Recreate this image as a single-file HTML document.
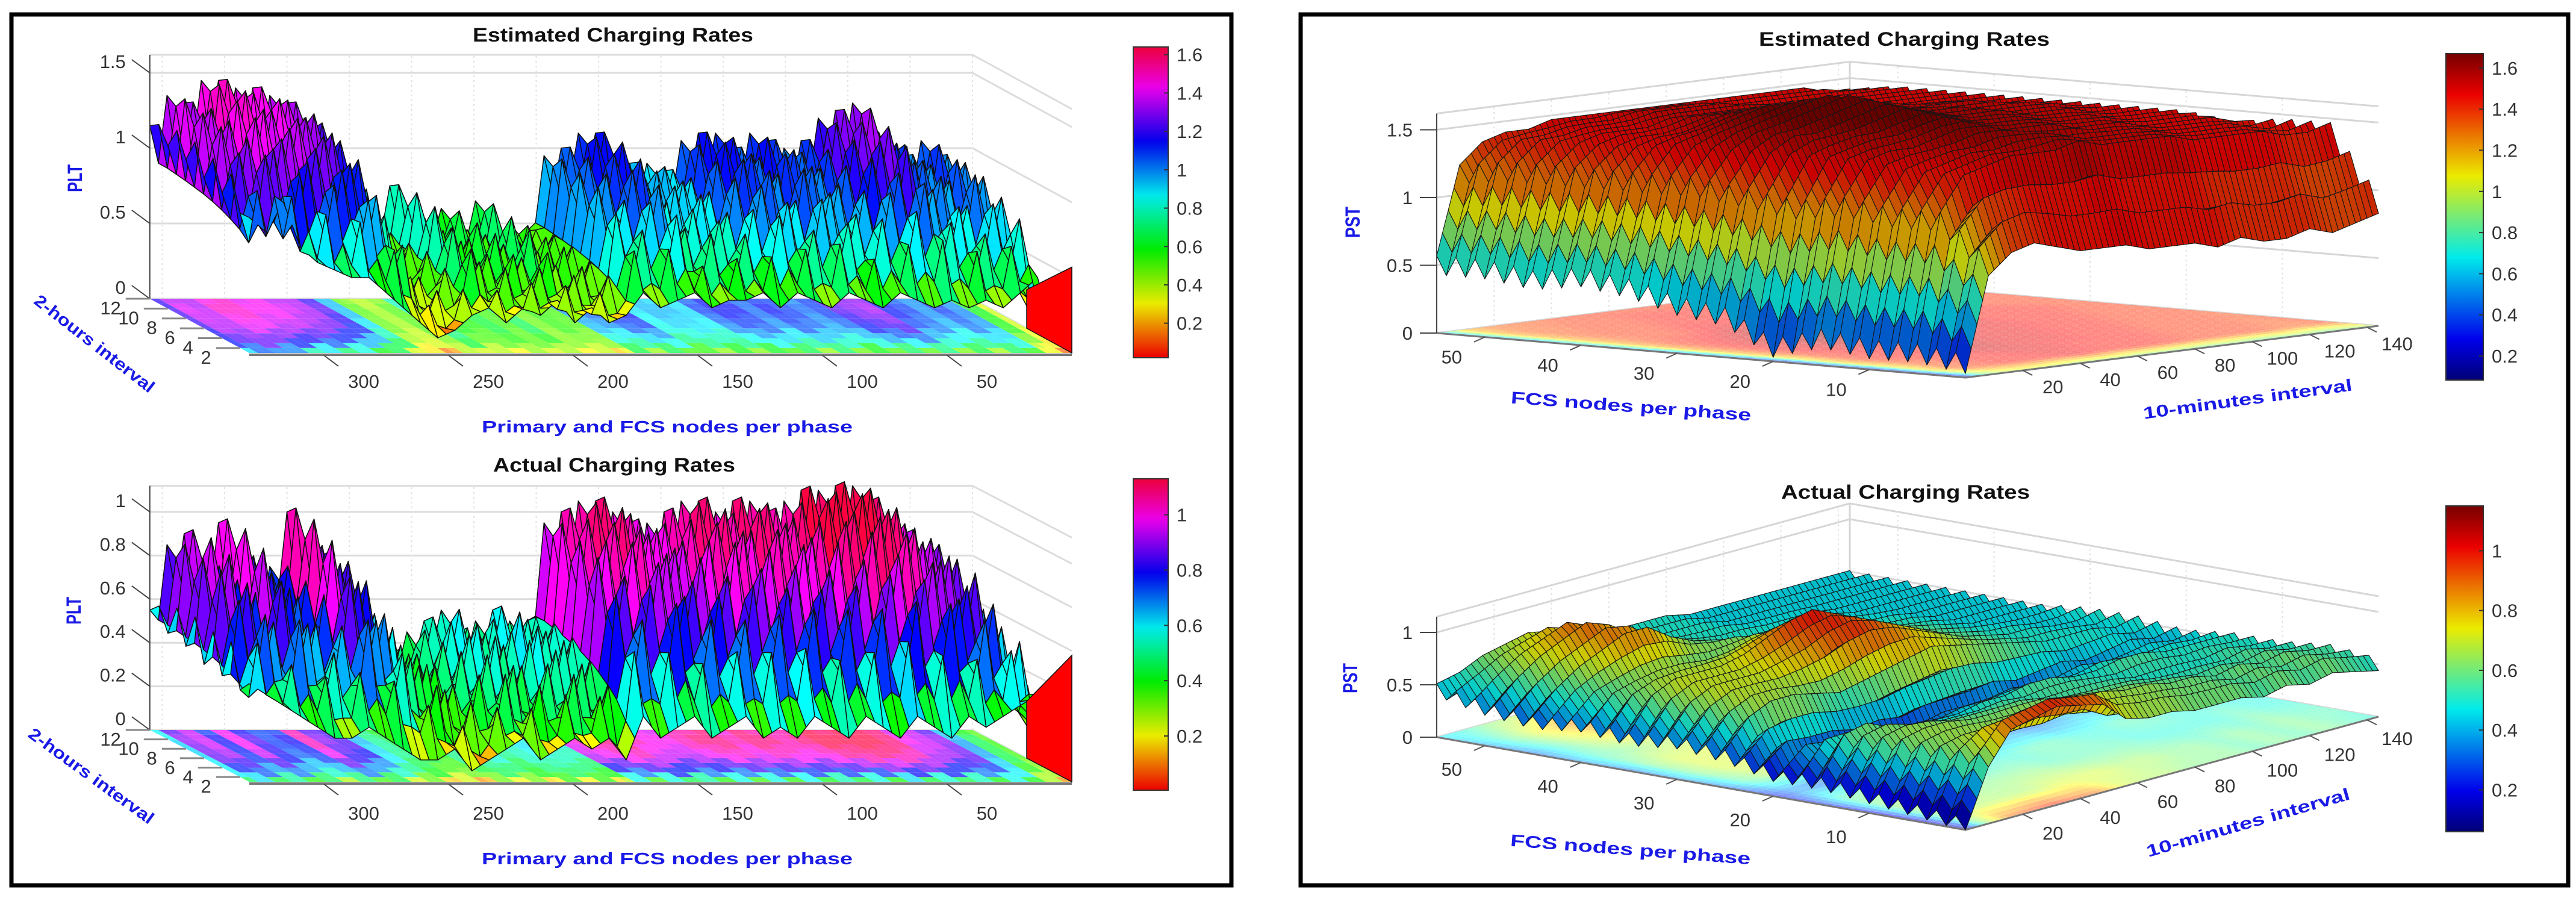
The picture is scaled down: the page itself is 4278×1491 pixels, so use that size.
<!DOCTYPE html>
<html><head><meta charset="utf-8">
<style>
html,body{margin:0;padding:0;background:#fff;}
svg{display:block;}
text{font-family:"Liberation Sans",Arial,sans-serif;}
.tk{font-size:31px;fill:#333;}
.ttl{font-size:32px;font-weight:bold;fill:#111;}
.lbl{font-size:28px;font-weight:bold;fill:#1a1ae6;}
.lbl2{font-size:34px;font-weight:bold;fill:#1a1ae6;}
</style></head>
<body>
<svg id="chart" width="4278" height="1491" viewBox="0 0 4278 1491" xmlns="http://www.w3.org/2000/svg">
<defs id="defs"></defs>
<rect x="0" y="0" width="4278" height="1491" fill="#fff"/>
<rect x="19" y="24" width="2026" height="1446" fill="none" stroke="#000" stroke-width="7"/>
<rect x="2160" y="24" width="2105" height="1446" fill="none" stroke="#000" stroke-width="7"/>
<g id="layer"></g>
<text class="ttl" x="785" y="69" textLength="466" lengthAdjust="spacingAndGlyphs">Estimated Charging Rates</text>
<text class="ttl" x="819" y="783" textLength="402" lengthAdjust="spacingAndGlyphs">Actual Charging Rates</text>
<text class="ttl" x="2921" y="76" textLength="483" lengthAdjust="spacingAndGlyphs">Estimated Charging Rates</text>
<text class="ttl" x="2958" y="828" textLength="413" lengthAdjust="spacingAndGlyphs">Actual Charging Rates</text>
<text class="lbl" x="800" y="718" textLength="616" lengthAdjust="spacingAndGlyphs">Primary and FCS nodes per phase</text>
<text class="lbl" x="800" y="1435" textLength="616" lengthAdjust="spacingAndGlyphs">Primary and FCS nodes per phase</text>
<text class="lbl2" text-anchor="middle" transform="translate(136,296) rotate(-90)" textLength="46" lengthAdjust="spacingAndGlyphs">PLT</text>
<text class="lbl2" text-anchor="middle" transform="translate(134,1014) rotate(-90)" textLength="46" lengthAdjust="spacingAndGlyphs">PLT</text>
<text class="lbl" text-anchor="middle" transform="translate(151,578) rotate(38)" textLength="245" lengthAdjust="spacingAndGlyphs">2-hours interval</text>
<text class="lbl" text-anchor="middle" transform="translate(146,1296) rotate(36)" textLength="250" lengthAdjust="spacingAndGlyphs">2-hours interval</text>
<text class="lbl2" text-anchor="middle" transform="translate(2258,369) rotate(-90)" textLength="52" lengthAdjust="spacingAndGlyphs">PST</text>
<text class="lbl2" text-anchor="middle" transform="translate(2254,1126) rotate(-90)" textLength="50" lengthAdjust="spacingAndGlyphs">PST</text>
<text class="lbl" text-anchor="middle" transform="translate(2708,684) rotate(4.2)" textLength="400" lengthAdjust="spacingAndGlyphs">FCS nodes per phase</text>
<text class="lbl" text-anchor="middle" transform="translate(2707,1420) rotate(4.4)" textLength="400" lengthAdjust="spacingAndGlyphs">FCS nodes per phase</text>
<text class="lbl" text-anchor="middle" transform="translate(3734,672) rotate(-7.8)" textLength="350" lengthAdjust="spacingAndGlyphs">10-minutes interval</text>
<text class="lbl" text-anchor="middle" transform="translate(3736,1375) rotate(-16)" textLength="350" lengthAdjust="spacingAndGlyphs">10-minutes interval</text>
</svg>
<script>
// ---------- data: top-left (estimated, PLT) ----------
const estBack = [1.15,1.35,1.3,1.45,1.45,1.4,1.4,1.35,1.3,1.2,0.9,0.45,0.35,0.45,0.75,0.55,0.5,0.6,0.45,0.65,0.4,0.5,0.45,0.95,1.0,1.1,1.1,0.85,0.9,0.9,0.85,1.05,1.1,1.1,1.0,1.1,1.05,1.0,1.05,1.2,1.25,1.3,1.1,1.05,0.95,1.05,0.95,0.55,0.3];
const estFront = [0.9,0.8,1.0,0.7,0.6,0.55,0.5,0.5,0.4,0.3,0.2,0.1,0.15,0.25,0.3,0.2,0.3,0.25,0.35,0.2,0.3,0.2,0.25,0.4,0.3,0.35,0.4,0.3,0.35,0.35,0.4,0.3,0.4,0.35,0.3,0.4,0.35,0.3,0.4,0.35,0.3,0.35,0.3,0.35,0.3,0.4,0.5,0.1,0.05];
// ---------- data: bottom-left (actual, PLT) ----------
const actBack = [0.55,0.85,0.9,0.75,0.95,0.8,0.7,0.75,1.0,0.85,0.8,0.6,0.45,0.4,0.35,0.45,0.5,0.55,0.45,0.5,0.55,0.5,0.5,0.95,1.0,1.05,1.05,1.0,0.95,0.95,1.0,1.05,1.05,1.0,1.05,1.05,1.0,1.05,1.1,1.1,1.12,1.12,1.05,0.95,0.9,0.85,0.6,0.4,0.3];
const actFront = [0.45,0.4,0.35,0.3,0.25,0.2,0.2,0.25,0.2,0.15,0.1,0.1,0.15,0.05,0.1,0.15,0.2,0.1,0.15,0.2,0.15,0.2,0.1,0.3,0.2,0.25,0.3,0.2,0.25,0.3,0.2,0.25,0.2,0.3,0.25,0.2,0.3,0.25,0.2,0.3,0.25,0.2,0.3,0.25,0.3,0.35,0.4,0.1,0.05];
// row weighting between front (row 1) and back (row 12) profiles
const rowBlend = [0,0.3,0.5,0.62,0.72,0.8,0.86,0.9,0.94,0.97,1,1];
const rowJag = [0,0.08,-0.1,0.09,-0.08,0.1,-0.09,0.07,-0.08,0.06,-0.04,0];
const rowTicks = [2,4,6,8,10,12];
const nodeTicks = [300,250,200,150,100,50];
const zTicksTL = [0,0.5,1,1.5];
const zTicksBL = [0,0.2,0.4,0.6,0.8,1];
const cbTicksTL = [0.2,0.4,0.6,0.8,1,1.2,1.4,1.6];
const cbTicksBL = [0.2,0.4,0.6,0.8,1];
// ---------- data: right charts, rows = FCS 0..55 step 5, cols = minutes 0..144 step 8 ----------
const fcsVals = [0,5,10,15,20,25,30,35,40,45,50,55];
const minVals = [0,8,16,24,32,40,48,56,64,72,80,88,96,104,112,120,128,136,144];
const estPST = [
[0.1,0.8,0.95,1.0,0.95,0.9,0.9,0.9,0.85,0.85,0.85,0.8,0.85,0.8,0.8,0.85,0.8,0.85,0.9],
[0.15,1.1,1.35,1.4,1.45,1.45,1.45,1.5,1.45,1.45,1.45,1.45,1.4,1.4,1.4,1.4,1.35,1.35,1.4],
[0.15,1.1,1.35,1.4,1.45,1.45,1.5,1.5,1.5,1.45,1.45,1.45,1.45,1.4,1.4,1.4,1.4,1.35,1.4],
[0.2,1.15,1.4,1.45,1.45,1.5,1.55,1.55,1.5,1.5,1.5,1.45,1.45,1.45,1.4,1.4,1.4,1.4,1.35],
[0.1,1.1,1.4,1.45,1.5,1.5,1.55,1.6,1.55,1.5,1.5,1.5,1.45,1.45,1.45,1.4,1.4,1.4,1.4],
[0.3,1.15,1.4,1.5,1.5,1.55,1.6,1.65,1.6,1.55,1.5,1.5,1.5,1.45,1.45,1.45,1.4,1.4,1.4],
[0.35,1.2,1.4,1.5,1.55,1.6,1.65,1.7,1.65,1.55,1.5,1.5,1.5,1.45,1.45,1.45,1.45,1.4,1.4],
[0.45,1.2,1.4,1.45,1.5,1.55,1.6,1.6,1.55,1.5,1.5,1.5,1.45,1.45,1.45,1.45,1.4,1.4,1.4],
[0.5,1.2,1.35,1.4,1.4,1.45,1.5,1.5,1.5,1.5,1.45,1.45,1.45,1.45,1.4,1.4,1.4,1.4,1.4],
[0.45,1.2,1.35,1.4,1.4,1.4,1.45,1.45,1.45,1.45,1.45,1.45,1.4,1.4,1.4,1.4,1.4,1.4,1.4],
[0.5,1.2,1.35,1.35,1.4,1.4,1.4,1.45,1.45,1.45,1.45,1.4,1.4,1.4,1.4,1.4,1.4,1.4,1.4],
[0.5,1.15,1.3,1.35,1.35,1.4,1.4,1.4,1.4,1.4,1.4,1.4,1.4,1.4,1.4,1.4,1.4,1.35,1.35]];
const actPST = [
[0.05,0.6,0.9,0.95,1.0,0.95,0.9,0.7,0.65,0.65,0.6,0.6,0.6,0.55,0.6,0.55,0.6,0.55,0.5],
[0.1,0.6,0.65,0.65,0.65,0.65,0.7,0.7,0.7,0.65,0.65,0.6,0.6,0.55,0.6,0.55,0.6,0.55,0.55],
[0.15,0.6,0.65,0.65,0.6,0.6,0.6,0.6,0.55,0.55,0.55,0.55,0.5,0.5,0.5,0.5,0.55,0.5,0.5],
[0.2,0.55,0.6,0.5,0.45,0.45,0.45,0.5,0.5,0.55,0.55,0.5,0.5,0.55,0.55,0.5,0.5,0.5,0.5],
[0.2,0.35,0.3,0.3,0.25,0.3,0.25,0.3,0.3,0.3,0.35,0.3,0.35,0.4,0.35,0.4,0.45,0.4,0.45],
[0.3,0.55,0.65,0.65,0.6,0.55,0.6,0.65,0.7,0.75,0.7,0.65,0.6,0.55,0.5,0.5,0.5,0.45,0.5],
[0.35,0.6,0.7,0.7,0.7,0.75,0.8,0.9,0.95,0.9,0.8,0.7,0.6,0.55,0.5,0.5,0.45,0.45,0.5],
[0.3,0.6,0.7,0.7,0.7,0.75,0.85,0.95,1.0,0.9,0.8,0.7,0.6,0.55,0.5,0.45,0.45,0.45,0.45],
[0.35,0.55,0.6,0.65,0.65,0.6,0.6,0.65,0.7,0.65,0.6,0.55,0.5,0.5,0.5,0.45,0.45,0.45,0.45],
[0.3,0.5,0.65,0.75,0.85,0.85,0.7,0.6,0.55,0.5,0.5,0.5,0.5,0.5,0.45,0.45,0.45,0.45,0.45],
[0.35,0.55,0.7,0.8,0.9,0.8,0.65,0.55,0.5,0.5,0.5,0.45,0.45,0.45,0.45,0.45,0.45,0.45,0.45],
[0.45,0.5,0.6,0.65,0.7,0.65,0.6,0.55,0.5,0.5,0.5,0.45,0.45,0.45,0.45,0.45,0.45,0.45,0.45]];
const fcsTicks = [50,40,30,20,10];
const minTicks = [20,40,60,80,100,120,140];
const zTicksTR = [0,0.5,1,1.5];
const zTicksBR = [0,0.5,1];
const cbTicksTR = [0.2,0.4,0.6,0.8,1,1.2,1.4,1.6];
const cbTicksBR = [0.2,0.4,0.6,0.8,1];

const NS = "http://www.w3.org/2000/svg";
const layer = document.getElementById('layer');
const defs = document.getElementById('defs');
function mk(tag, attrs, parent){
  const e = document.createElementNS(NS, tag);
  for (const k in attrs) e.setAttribute(k, attrs[k]);
  (parent || layer).appendChild(e);
  return e;
}
function clamp(v){return Math.max(0, Math.min(1, v));}
function hsvMap(t){ t = clamp(t); const h = t*345; return 'hsl(' + h.toFixed(1) + ',100%,50%)'; }
function jetRGB(t){ t = clamp(t); return [clamp(1.5-Math.abs(4*t-3)), clamp(1.5-Math.abs(4*t-2)), clamp(1.5-Math.abs(4*t-1))]; }
function jetMap(t, k){ const c = jetRGB(t); return 'rgb(' + c.map(v => Math.round(v*(k||225))).join(',') + ')'; }
function hsvRGB(t){ t = clamp(t); const h = t*345/60; const x = 1 - Math.abs(h % 2 - 1); const i = Math.floor(h);
  const tbl = [[1,x,0],[x,1,0],[0,1,x],[0,x,1],[x,0,1],[1,0,x]]; return tbl[Math.min(i,5)]; }
function light(rgb, w){ return 'rgb(' + rgb.map(v => Math.round((v*(1-w) + w)*255)).join(',') + ')'; }
function pts(arr){ return arr.map(p => p[0].toFixed(1) + ',' + p[1].toFixed(1)).join(' '); }

// ---------- left charts ----------
function leftChart(cfg){
  const g = mk('g', {});
  
  
  const nMax = 330;
  const P = (n, i, z) => [cfg.x0 - n*4.14 - (i/11)*165, cfg.y0 - (i/11)*cfg.dy - z*cfg.zs];
  const nC = cfg.back.length;
  const H = [];
  for (let i = 0; i < 12; i++){
    const row = [];
    for (let c = 0; c < nC; c++){
      row.push(Math.max(0, cfg.back[c]*rowBlend[i] + cfg.front[c]*(1-rowBlend[i]) + rowJag[i]*(c%2 ? 1 : -1)));
    }
    const fine = [];
    for (let c = 0; c < nC; c++){
      fine.push(row[c]);
      if (c < nC-1) fine.push((row[c] + row[c+1])/2 * (i === 0 ? 1 : 0.72));
    }
    H.push(fine);
  }
  const nF = H[0].length;
  const nodeAt = c => nMax - c*nMax/(nF-1);
  const tn = v => (v - cfg.cmin)/(cfg.cmax - cfg.cmin);
  cfg.zTicks.concat([cfg.zTop]).forEach(z => {
    const a = P(nMax, 11, z), b = P(0, 11, z), c = P(0, 0, z);
    const gl = mk('polyline', {points: pts([a, b, c]), fill: 'none', stroke: '#dcdcdc', 'stroke-width': 3}, g);
    
    
  });
  for (let n = 0; n <= nMax; n += 25){
    const a = P(n, 11, 0), b = P(n, 11, cfg.zTop);
    const vl = mk('line', {x1: a[0], y1: a[1], x2: b[0], y2: b[1], stroke: '#e2e2e2', 'stroke-width': 2, 'stroke-dasharray': '3,5'}, g);
    
    
  }
  for (let i = 0; i < 11; i++) for (let c = 0; c < nF-1; c++){
    const v = Math.max(H[i][c], H[i][c+1], H[i+1][c], H[i+1][c+1]);
    const f = mk('polygon', {points: pts([P(nodeAt(c), i, 0), P(nodeAt(c+1), i, 0), P(nodeAt(c+1), i+1, 0), P(nodeAt(c), i+1, 0)]), fill: light(hsvRGB(tn(v)), 0.3)}, g);
    
    
  }
  const fe = mk('line', {x1: P(nMax,0,0)[0], y1: P(nMax,0,0)[1]+3, x2: P(0,0,0)[0], y2: P(0,0,0)[1]+3, stroke: '#777', 'stroke-width': 4}, g);
  
  
  for (let i = 10; i >= 0; i--) for (let c = 0; c < nF-1; c++){
    const v = Math.max(H[i][c], H[i][c+1], H[i+1][c], H[i+1][c+1]);
    const q = mk('polygon', {points: pts([P(nodeAt(c), i, H[i][c]), P(nodeAt(c+1), i, H[i][c+1]), P(nodeAt(c+1), i+1, H[i+1][c+1]), P(nodeAt(c), i+1, H[i+1][c])]), fill: hsvMap(tn(v)), stroke: '#111', 'stroke-width': 1.5, 'stroke-linejoin': 'round'}, g);
    
    
  }
  const w = mk('polygon', {points: pts([P(0,0,0), P(0,0,cfg.wall), P(0,5,cfg.wall*0.45), P(0,5,0)]), fill: '#ff0000', stroke: '#111', 'stroke-width': 1.5}, g);
  
  
  const za = P(nMax, 11, 0), zb = P(nMax, 11, cfg.zTop);
  const zl = mk('line', {x1: za[0], y1: za[1], x2: zb[0], y2: zb[1], stroke: '#444', 'stroke-width': 2}, g);
  
  
  cfg.zTicks.forEach(z => {
    const p = P(nMax, 11, z);
    const tl = mk('line', {x1: p[0]-30, y1: p[1]-22, x2: p[0], y2: p[1], stroke: '#444', 'stroke-width': 2}, g);
    
    
    const t = mk('text', {x: p[0]-40, y: p[1]-8, class: 'tk', 'text-anchor': 'end'}, g);
    t.textContent = String(z);
    
    
  });
  rowTicks.forEach(r => {
    const p = P(nMax, (r-1)/11*11, 0);
    const tl = mk('line', {x1: p[0]-40, y1: p[1], x2: p[0], y2: p[1], stroke: '#888', 'stroke-width': 3}, g);
    
    
    const t = mk('text', {x: p[0]-48, y: p[1]+26, class: 'tk', 'text-anchor': 'end'}, g);
    t.textContent = String(r);
    
    
  });
  nodeTicks.forEach(n => {
    const p = P(n, 0, 0);
    const tl = mk('line', {x1: p[0], y1: p[1]+4, x2: p[0]+24, y2: p[1]+22, stroke: '#444', 'stroke-width': 2}, g);
    
    
    const t = mk('text', {x: p[0]+66, y: p[1]+cfg.lblDy, class: 'tk', 'text-anchor': 'middle'}, g);
    t.textContent = String(n);
    
    
  });
  colorbar(cfg.cb, hsvRGB);
}

let gid = 0;
function colorbar(cb, rgbFn){
  const id = 'grad' + (gid++);
  const lg = mk('linearGradient', {id: id, x1: 0, y1: 1, x2: 0, y2: 0}, defs);
  for (let k = 0; k <= 40; k++){
    const c = rgbFn(k/40);
    mk('stop', {offset: (k/40).toFixed(3), 'stop-color': 'rgb(' + c.map(v => Math.round(v*235)).join(',') + ')'}, lg);
  }
  const r = mk('rect', {x: cb.x, y: cb.y1, width: cb.w, height: cb.y2 - cb.y1, fill: 'url(#' + id + ')', stroke: '#333', 'stroke-width': 2});
  
  
  cb.ticks.forEach(v => {
    const y = cb.y1 + (cb.vmax - v)/(cb.vmax - cb.vmin)*(cb.y2 - cb.y1);
    const tl = mk('line', {x1: cb.x + cb.w - 7, y1: y, x2: cb.x + cb.w, y2: y, stroke: '#333', 'stroke-width': 2});
    
    
    const t = mk('text', {x: cb.x + cb.w + 14, y: y + 11, class: 'tk'});
    t.textContent = String(v);
    
    
  });
}

function rightChart(cfg){
  const g = mk('g', {});
  
  
  const F = cfg.F, L = cfg.L, R = cfg.R;
  const fMax = 55, mMax = 144;
  const P = (f, m, z) => [F[0] + (L[0]-F[0])*f/fMax + (R[0]-F[0])*m/mMax, F[1] + (L[1]-F[1])*f/fMax + (R[1]-F[1])*m/mMax - z*cfg.zs];
  const tn = v => (v - cfg.cmin)/(cfg.cmax - cfg.cmin);
  const M = cfg.data;
  cfg.zTicks.concat([cfg.zTop]).forEach(z => {
    const gl = mk('polyline', {points: pts([P(fMax,0,z), P(fMax,mMax,z), P(0,mMax,z)]), fill: 'none', stroke: '#d6d6d6', 'stroke-width': 3}, g);
    
    
  });
  minTicks.forEach(m => {
    const a = P(fMax, m, 0), b = P(fMax, m, cfg.zTop);
    const l = mk('line', {x1: a[0], y1: a[1], x2: b[0], y2: b[1], stroke: '#e0e0e0', 'stroke-width': 2, 'stroke-dasharray': '3,5'}, g);
    
    
  });
  fcsTicks.forEach(f => {
    const a = P(f, mMax, 0), b = P(f, mMax, cfg.zTop);
    const l = mk('line', {x1: a[0], y1: a[1], x2: b[0], y2: b[1], stroke: '#e0e0e0', 'stroke-width': 2, 'stroke-dasharray': '3,5'}, g);
    
    
  });
  const bc = [P(fMax,mMax,0), P(fMax,mMax,cfg.zTop)];
  const bl = mk('line', {x1: bc[0][0], y1: bc[0][1], x2: bc[1][0], y2: bc[1][1], stroke: '#d6d6d6', 'stroke-width': 3}, g);
  
  
  const sF = 5, sM = 4;
  const fs = [], ms = [], fa = [];
  for (let a = 0; a < fcsVals.length-1; a++) for (let s = 0; s < sF; s++){ fs.push(fcsVals[a] + (fcsVals[a+1]-fcsVals[a])*s/sF); fa.push(a); }
  fs.push(fcsVals[fcsVals.length-1]); fa.push(fcsVals.length-2);
  for (let b = 0; b < minVals.length-1; b++) for (let s = 0; s < sM; s++) ms.push(minVals[b] + (minVals[b+1]-minVals[b])*s/sM);
  ms.push(minVals[minVals.length-1]);
  function valM(a, m){
    let b = 0; while (b < minVals.length-2 && m > minVals[b+1]) b++;
    const w = (m - minVals[b])/(minVals[b+1]-minVals[b]);
    return M[a][b]*(1-w) + M[a][b+1]*w;
  }
  function val(f, m){
    let a = 0; while (a < fcsVals.length-2 && f > fcsVals[a+1]) a++;
    const u = (f - fcsVals[a])/(fcsVals[a+1]-fcsVals[a]);
    return valM(a, m)*(1-u) + valM(a+1, m)*u;
  }
  const V = fs.map((f, a) => ms.map(m => Math.max(0, val(f, m) + cfg.jag*(a%2 ? 1 : -1))));
  for (let a = 0; a < fs.length-1; a++) for (let b = 0; b < ms.length-1; b++){
    const v = (V[a][b] + V[a+1][b] + V[a][b+1] + V[a+1][b+1])/4;
    const q = mk('polygon', {points: pts([P(fs[a],ms[b],0), P(fs[a+1],ms[b],0), P(fs[a+1],ms[b+1],0), P(fs[a],ms[b+1],0)]), fill: light(jetRGB(tn(v)), 0.5)}, g);
    
    
  }
  const e1 = mk('polyline', {points: pts([P(fMax,0,0), P(0,0,0), P(0,mMax,0)]), fill: 'none', stroke: '#777', 'stroke-width': 3}, g);
  
  
  const quads = [];
  for (let a = 0; a < fs.length-1; a++) for (let b = 0; b < ms.length-1; b++){
    const c4 = [V[a][b], V[a+1][b], V[a+1][b+1], V[a][b+1]];
    quads.push({a, b, c4, d: (fs[a]+fs[a+1])/2/fMax + (ms[b]+ms[b+1])/2/mMax});
  }
  quads.sort((p, q) => q.d - p.d);
  quads.forEach(o => {
    const a = o.a, b = o.b, c4 = o.c4;
    let v;
    if (cfg.useMax){
      const mm = (ms[b] + ms[b+1])/2, ca = fa[a];
      v = Math.max(Math.max.apply(null, c4), valM(ca, mm), valM(ca+1, mm));
    } else v = (c4[0]+c4[1]+c4[2]+c4[3])/4;
    const q = mk('polygon', {points: pts([P(fs[a],ms[b],c4[0]), P(fs[a+1],ms[b],c4[1]), P(fs[a+1],ms[b+1],c4[2]), P(fs[a],ms[b+1],c4[3])]), fill: jetMap(tn(v), cfg.bright), stroke: '#151515', 'stroke-width': 1.1, 'stroke-linejoin': 'round'}, g);
    
    
  });
  const za = P(fMax, 0, 0), zb = P(fMax, 0, cfg.zTop);
  const zl = mk('line', {x1: za[0], y1: za[1], x2: zb[0], y2: zb[1], stroke: '#444', 'stroke-width': 2}, g);
  
  
  cfg.zTicks.forEach(z => {
    const p = P(fMax, 0, z);
    const tl = mk('line', {x1: p[0]-28, y1: p[1], x2: p[0], y2: p[1], stroke: '#444', 'stroke-width': 2}, g);
    
    
    const t = mk('text', {x: p[0]-40, y: p[1]+11, class: 'tk', 'text-anchor': 'end'}, g);
    t.textContent = String(z);
    
    
  });
  fcsTicks.forEach(f => {
    const p = P(f, 0, 0);
    const tl = mk('line', {x1: p[0], y1: p[1], x2: p[0]-18, y2: p[1]+8, stroke: '#555', 'stroke-width': 2}, g);
    
    
    const t = mk('text', {x: p[0]-55, y: p[1]+cfg.fDy, class: 'tk', 'text-anchor': 'middle'}, g);
    t.textContent = String(f);
    
    
  });
  minTicks.forEach(m => {
    const p = P(0, m, 0);
    const tl = mk('line', {x1: p[0], y1: p[1], x2: p[0]+16, y2: p[1]+8, stroke: '#555', 'stroke-width': 2}, g);
    
    
    const t = mk('text', {x: p[0]+50, y: p[1]+cfg.mDy, class: 'tk', 'text-anchor': 'middle'}, g);
    t.textContent = String(m);
    
    
  });
  colorbar(cfg.cb, jetRGB);
}

leftChart({name: 'estimated-plt-surface', back: estBack, front: estFront, x0: 1780, y0: 586, dy: 90, zs: 250, zTop: 1.62, cmin: 0.02, cmax: 1.64, wall: 0.57,
  zTicks: zTicksTL, lblDy: 58, cb: {x: 1882, y1: 78, y2: 594, w: 58, vmin: 0.02, vmax: 1.64, ticks: cbTicksTL}});
leftChart({name: 'actual-plt-surface', back: actBack, front: actFront, x0: 1780, y0: 1298, dy: 86, zs: 362, zTop: 1.12, cmin: 0.004, cmax: 1.13, wall: 0.58,
  zTicks: zTicksBL, lblDy: 63, cb: {x: 1882, y1: 795, y2: 1312, w: 58, vmin: 0.004, vmax: 1.13, ticks: cbTicksBL}});
rightChart({name: 'estimated-pst-surface', data: estPST, F: [3264,627], L: [2386,553], R: [3950,541], zs: 225, zTop: 1.62, cmin: 0.083, cmax: 1.67, useMax: true, jag: 0.07, bright: 200,
  zTicks: zTicksTR, fDy: 44, mDy: 38, cb: {x: 4062, y1: 89, y2: 631, w: 62, vmin: 0.083, vmax: 1.67, ticks: cbTicksTR}});
rightChart({name: 'actual-pst-surface', data: actPST, F: [3264,1378], L: [2386,1224], R: [3950,1190], zs: 174, zTop: 1.15, cmin: 0.06, cmax: 1.15, useMax: false, jag: 0.06, bright: 205,
  zTicks: zTicksBR, fDy: 50, mDy: 42, cb: {x: 4062, y1: 840, y2: 1381, w: 62, vmin: 0.06, vmax: 1.15, ticks: cbTicksBR}});
</script>
</body></html>
